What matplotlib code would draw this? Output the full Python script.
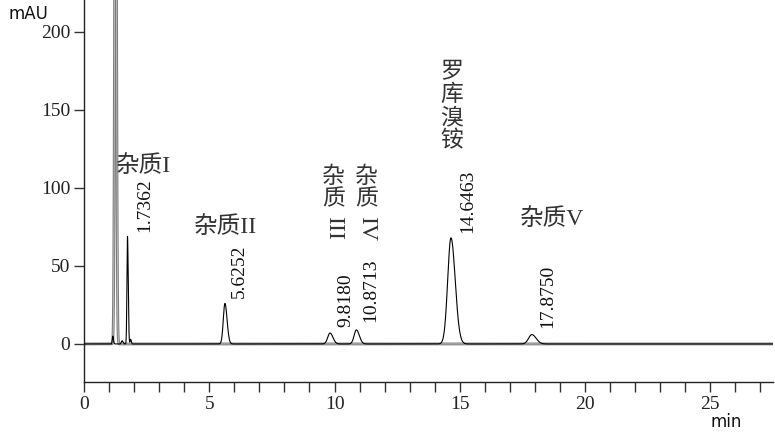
import numpy as np
import matplotlib
matplotlib.use("Agg")
import matplotlib.pyplot as plt
from matplotlib.ticker import MultipleLocator

# ---- data ----
peak_times = [1.15, 1.52, 1.7362, 1.86, 5.6252, 9.8180, 10.8713, 14.6463, 17.8750]
peak_heights = [5.0, 2.0, 69.0, 3.0, 26.0, 7.0, 9.0, 68.0, 6.0]
peak_sigmas = [0.02, 0.03, 0.022, 0.02, 0.065, 0.09, 0.09, 0.13, 0.13]

main_time = 1.26
main_height = 400.0
main_sigma = 0.035

rt_labels = ["1.7362", "5.6252", "9.8180", "10.8713", "14.6463", "17.8750"]
rt_label_x = [2.44, 6.2, 10.44, 11.44, 15.32, 18.52]
rt_label_y = [72.0, 29.5, 11.0, 14.0, 71.0, 10.0]

name_h = ["杂质I", "杂质II", "杂质V"]
name_h_x = [1.28, 4.4, 17.4]
name_h_y = [114.0, 75.0, 80.0]

x_ticks = [0, 5, 10, 15, 20, 25]
y_ticks = [0, 50, 100, 150, 200]

# ---- figure ----
fig = plt.figure(figsize=(7.75, 4.37), dpi=100)
ax = fig.add_axes([84 / 775, 55 / 437, 689 / 775, 382 / 437])

t = np.arange(0, 27.5, 0.002)
sig = np.zeros_like(t)
for tm, h, s in zip(peak_times, peak_heights, peak_sigmas):
    ss = np.where(t < tm, s, s * 1.3)
    sig += h * np.exp(-0.5 * ((t - tm) / ss) ** 2)
main = main_height * np.exp(-0.5 * ((t - main_time) / main_sigma) ** 2)

ax.plot(t, sig, color="black", lw=0.8, zorder=3)
ax.plot(t, main, color="#7a7a7a", lw=2.0, zorder=2)
ax.plot(t, main, color="#d0d0d0", lw=0.5, zorder=2)

ax.set_xlim(0, 27.5)
ax.set_ylim(-24.4, 220.5)

for sp in ["top", "right"]:
    ax.spines[sp].set_visible(False)
for sp in ["left", "bottom"]:
    ax.spines[sp].set_linewidth(1.0)
    ax.spines[sp].set_color("#222222")

ax.set_xticks(x_ticks)
ax.set_yticks(y_ticks)
ax.xaxis.set_minor_locator(MultipleLocator(1))
ax.tick_params(axis="both", which="both", direction="out", length=7, width=1.0,
               color="#333333", labelsize=14, labelcolor="#222222", pad=3)
for lab in ax.get_xticklabels() + ax.get_yticklabels():
    lab.set_fontfamily("Liberation Serif")

fig.text(8 / 775, 1 - 14 / 437, "mAU", fontsize=12, family="DejaVu Sans",
         ha="left", va="center", color="#111111")
fig.text(710 / 775, 1 - 422 / 437, "min", fontsize=12, family="DejaVu Sans",
         ha="left", va="center", color="#111111")

# retention time labels
for lab, x, y in zip(rt_labels, rt_label_x, rt_label_y):
    ax.text(x, y, lab, rotation=90, ha="center", va="bottom", fontsize=14,
            family="Liberation Serif", color="#111111")

mixed = ["Liberation Serif", "Noto Sans CJK SC"]
cjk = ["Noto Sans CJK SC", "DejaVu Sans"]
# horizontal names
for lab, x, y in zip(name_h, name_h_x, name_h_y):
    ax.text(x, y, lab, ha="left", va="center", fontsize=17, family=mixed,
            color="#333333")

# vertical names
def vertical_name(x, y_top, chars, numeral):
    ax.text(x, y_top, "\n".join(chars), ha="center", va="top",
            fontsize=16.5, family=cjk, color="#333333", linespacing=1.0)
    if numeral:
        y_num = y_top - len(chars) * 15.6 - 2
        ax.text(x, y_num, numeral, rotation=-90, ha="center", va="top",
                fontsize=17, family="Liberation Serif", color="#333333")

vertical_name(9.96, 115.0, ["杂", "质"], "III")
vertical_name(11.28, 115.0, ["杂", "质"], "IV")
vertical_name(14.68, 182.0, ["罗", "库", "溴", "铵"], None)

fig.savefig("out.png", dpi=100)
